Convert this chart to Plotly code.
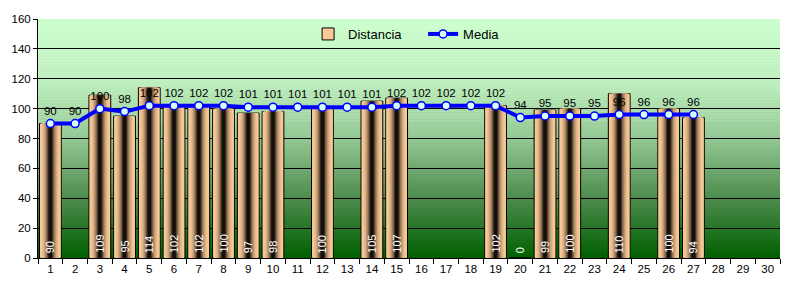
import plotly.graph_objects as go

dias = [str(i) for i in range(1, 31)]
distancia = [90, None, 109, 95, 114, 102, 102, 100, 97, 98, None, 100, None, 105, 107,
             None, None, None, 102, 0, 99, 100, None, 110, None, 100, 94, None, None, None]
media = [90, 90, 100, 98, 102, 102, 102, 102, 101, 101, 101, 101, 101, 101, 102,
         102, 102, 102, 102, 94, 95, 95, 95, 96, 96, 96, 96, None, None, None]
y_ticks = [0, 20, 40, 60, 80, 100, 120, 140, 160]

FONT = "Liberation Sans, Arial, sans-serif"

fig = go.Figure()

# bar gradient (cylinder look) via overlaid bars of decreasing width
tan = (250, 202, 152)
dark = (22, 14, 8)
N = 12
full_w = 0.88
for k in range(N):
    t = k / (N - 1)
    t2 = t ** 2.4
    c = tuple(int(tan[j] + (dark[j] - tan[j]) * t2) for j in range(3))
    w = full_w * (1 - 0.92 * k / N)
    fig.add_trace(go.Bar(
        x=dias, y=distancia, width=w,
        marker=dict(color="rgb(%d,%d,%d)" % c,
                    line=dict(color="black", width=1 if k == 0 else 0)),
        name="Distancia", showlegend=(k == 0), hoverinfo="skip" if k else None,
        legendrank=1,
    ))

fig.add_trace(go.Scatter(
    x=dias, y=media, mode="lines+markers+text", name="Media",
    line=dict(color="#0000FF", width=4),
    marker=dict(symbol="circle", size=8, color="#D8FFFF", line=dict(color="#0000FF", width=1.5)),
    text=[("" if v is None else str(v)) for v in media],
    textposition="top center", textfont=dict(family=FONT, size=11.5, color="black"),
    cliponaxis=False, legendrank=2,
))

# bar value labels (rotated, white, at bar base)
for i, v in enumerate(distancia):
    if v is None:
        continue
    fig.add_annotation(x=i, y=0, text=str(v), textangle=-90, showarrow=False,
                       yanchor="bottom", yshift=3, xref="x", yref="y",
                       font=dict(family=FONT, size=11, color="white"))

# background gradient bands
stops = [(0, (0, 96, 0)), (40, (78, 140, 78)), (80, (148, 200, 148)),
         (120, (192, 240, 192)), (160, (206, 255, 206))]
def col(yv):
    for (a, ca), (b, cb) in zip(stops[:-1], stops[1:]):
        if a <= yv <= b:
            t = (yv - a) / (b - a)
            return tuple(int(ca[j] + (cb[j] - ca[j]) * t) for j in range(3))
    return stops[-1][1]
step = 2
for y0 in range(0, 160, step):
    c = col(y0 + step / 2)
    fig.add_shape(type="rect", xref="paper", yref="y", x0=0, x1=1, y0=y0, y1=y0 + step + 0.3,
                  fillcolor="rgb(%d,%d,%d)" % c, line=dict(width=0), layer="below")

fig.update_layout(
    width=797, height=290,
    margin=dict(l=33, r=17, t=19, b=32),
    paper_bgcolor="white", plot_bgcolor="rgba(0,0,0,0)",
    barmode="overlay", bargap=0.12,
    font=dict(family=FONT, size=11.5, color="black"),
    legend=dict(orientation="h", x=0.364, y=1.0, xanchor="left", yanchor="top",
                bgcolor="rgba(0,0,0,0)", font=dict(size=13), itemwidth=30,
                entrywidth=70, entrywidthmode="pixels",
                traceorder="normal"),
    showlegend=True,
)
fig.update_xaxes(type="category", range=[-0.5, 29.5], showline=True, linecolor="black",
                 ticks="outside", ticklen=5, tickcolor="black", tickson="boundaries",
                 showgrid=False, tickfont=dict(size=11.5))
fig.update_yaxes(range=[0, 160], tickvals=y_ticks, showline=True, linecolor="black",
                 ticks="outside", ticklen=4, tickcolor="black", showgrid=True,
                 gridcolor="black", gridwidth=1, zeroline=False, tickfont=dict(size=11.5))

fig.write_html("out.html")
